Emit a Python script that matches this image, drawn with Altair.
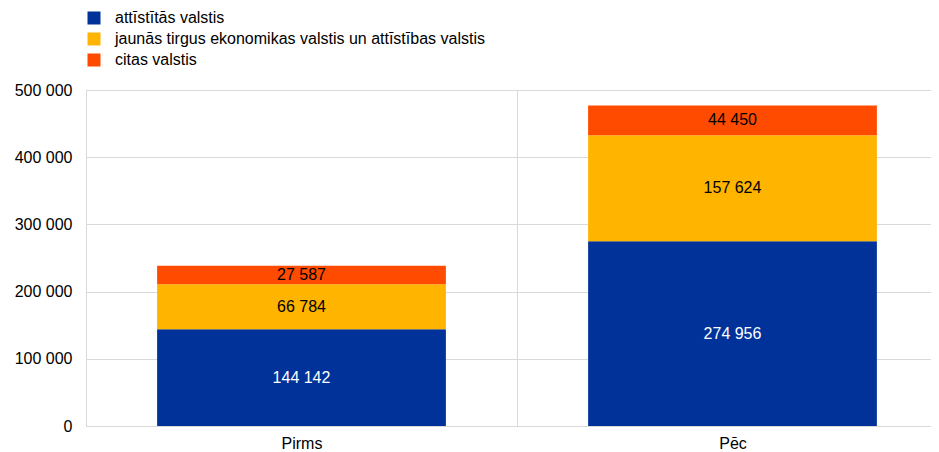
import altair as alt
import pandas as pd

categories = ["Pirms", "Pēc"]
series = [
    "attīstītās valstis",
    "jaunās tirgus ekonomikas valstis un attīstības valstis",
    "citas valstis",
]
developed = [144142, 274956]
emerging = [66784, 157624]
other = [27587, 44450]
colors = ["#003299", "#FFB400", "#FF4B00"]
text_colors = ["#FFFFFF", "#000000", "#000000"]

rows = []
for i, c in enumerate(categories):
    for j, (s, vals) in enumerate(zip(series, [developed, emerging, other])):
        rows.append({"cat": c, "series": s, "value": vals[i], "order": j,
                     "tcolor": text_colors[j]})
df = pd.DataFrame(rows)

FONT = "Liberation Sans"
FS = 16

x = alt.X("cat:N", sort=categories, title=None,
          scale=alt.Scale(paddingInner=0, paddingOuter=0),
          axis=alt.Axis(labelAngle=0, grid=True, tickBand="extent", ticks=False,
                        domain=False, labelFontSize=FS, labelColor="#000000",
                        labelFont=FONT, labelPadding=9, gridColor="#d9d9d9"))

bars = alt.Chart(df).mark_bar(width=alt.RelativeBandSize(0.67)).encode(
    x=x,
    y=alt.Y("sum(value):Q", title=None,
            scale=alt.Scale(domain=[0, 500000]),
            axis=alt.Axis(values=[0, 100000, 200000, 300000, 400000, 500000],
                          labelExpr="replace(format(datum.value, ','), regexp(',', 'g'), ' ')",
                          domain=False, ticks=False, labelFontSize=FS, labelColor="#000000",
                          labelFont=FONT, labelPadding=14, gridColor="#d9d9d9")),
    color=alt.Color("series:N", sort=series,
                    scale=alt.Scale(domain=series, range=colors),
                    legend=alt.Legend(title=None, orient="none", legendX=0, legendY=-80,
                                      direction="vertical", symbolType="square",
                                      symbolSize=169, symbolStrokeWidth=0, symbolOpacity=1,
                                      labelFontSize=FS, labelFont=FONT, labelColor="#000000",
                                      labelOffset=13, rowPadding=5, labelLimit=700)),
    order=alt.Order("order:Q"),
)

labels = alt.Chart(df).transform_stack(
    stack="value", groupby=["cat"], as_=["v0", "v1"],
    sort=[alt.SortField("order", order="ascending")]
).transform_calculate(
    mid="(datum.v0 + datum.v1) / 2",
    label="replace(format(datum.value, ','), regexp(',', 'g'), ' ')",
).mark_text(fontSize=FS, font=FONT, baseline="middle").encode(
    x=alt.X("cat:N", sort=categories),
    y=alt.Y("mid:Q"),
    text="label:N",
    color=alt.Color("tcolor:N", scale=None),
)

chart = alt.layer(bars, labels).properties(
    width=862, height=336,
    autosize=alt.AutoSizeParams(type="none"),
    padding={"left": 78, "top": 82, "right": -17, "bottom": 28},
).configure_view(stroke=None).configure(background="#ffffff")

chart.save("out.html", embed_options={"renderer": "svg", "actions": False})
